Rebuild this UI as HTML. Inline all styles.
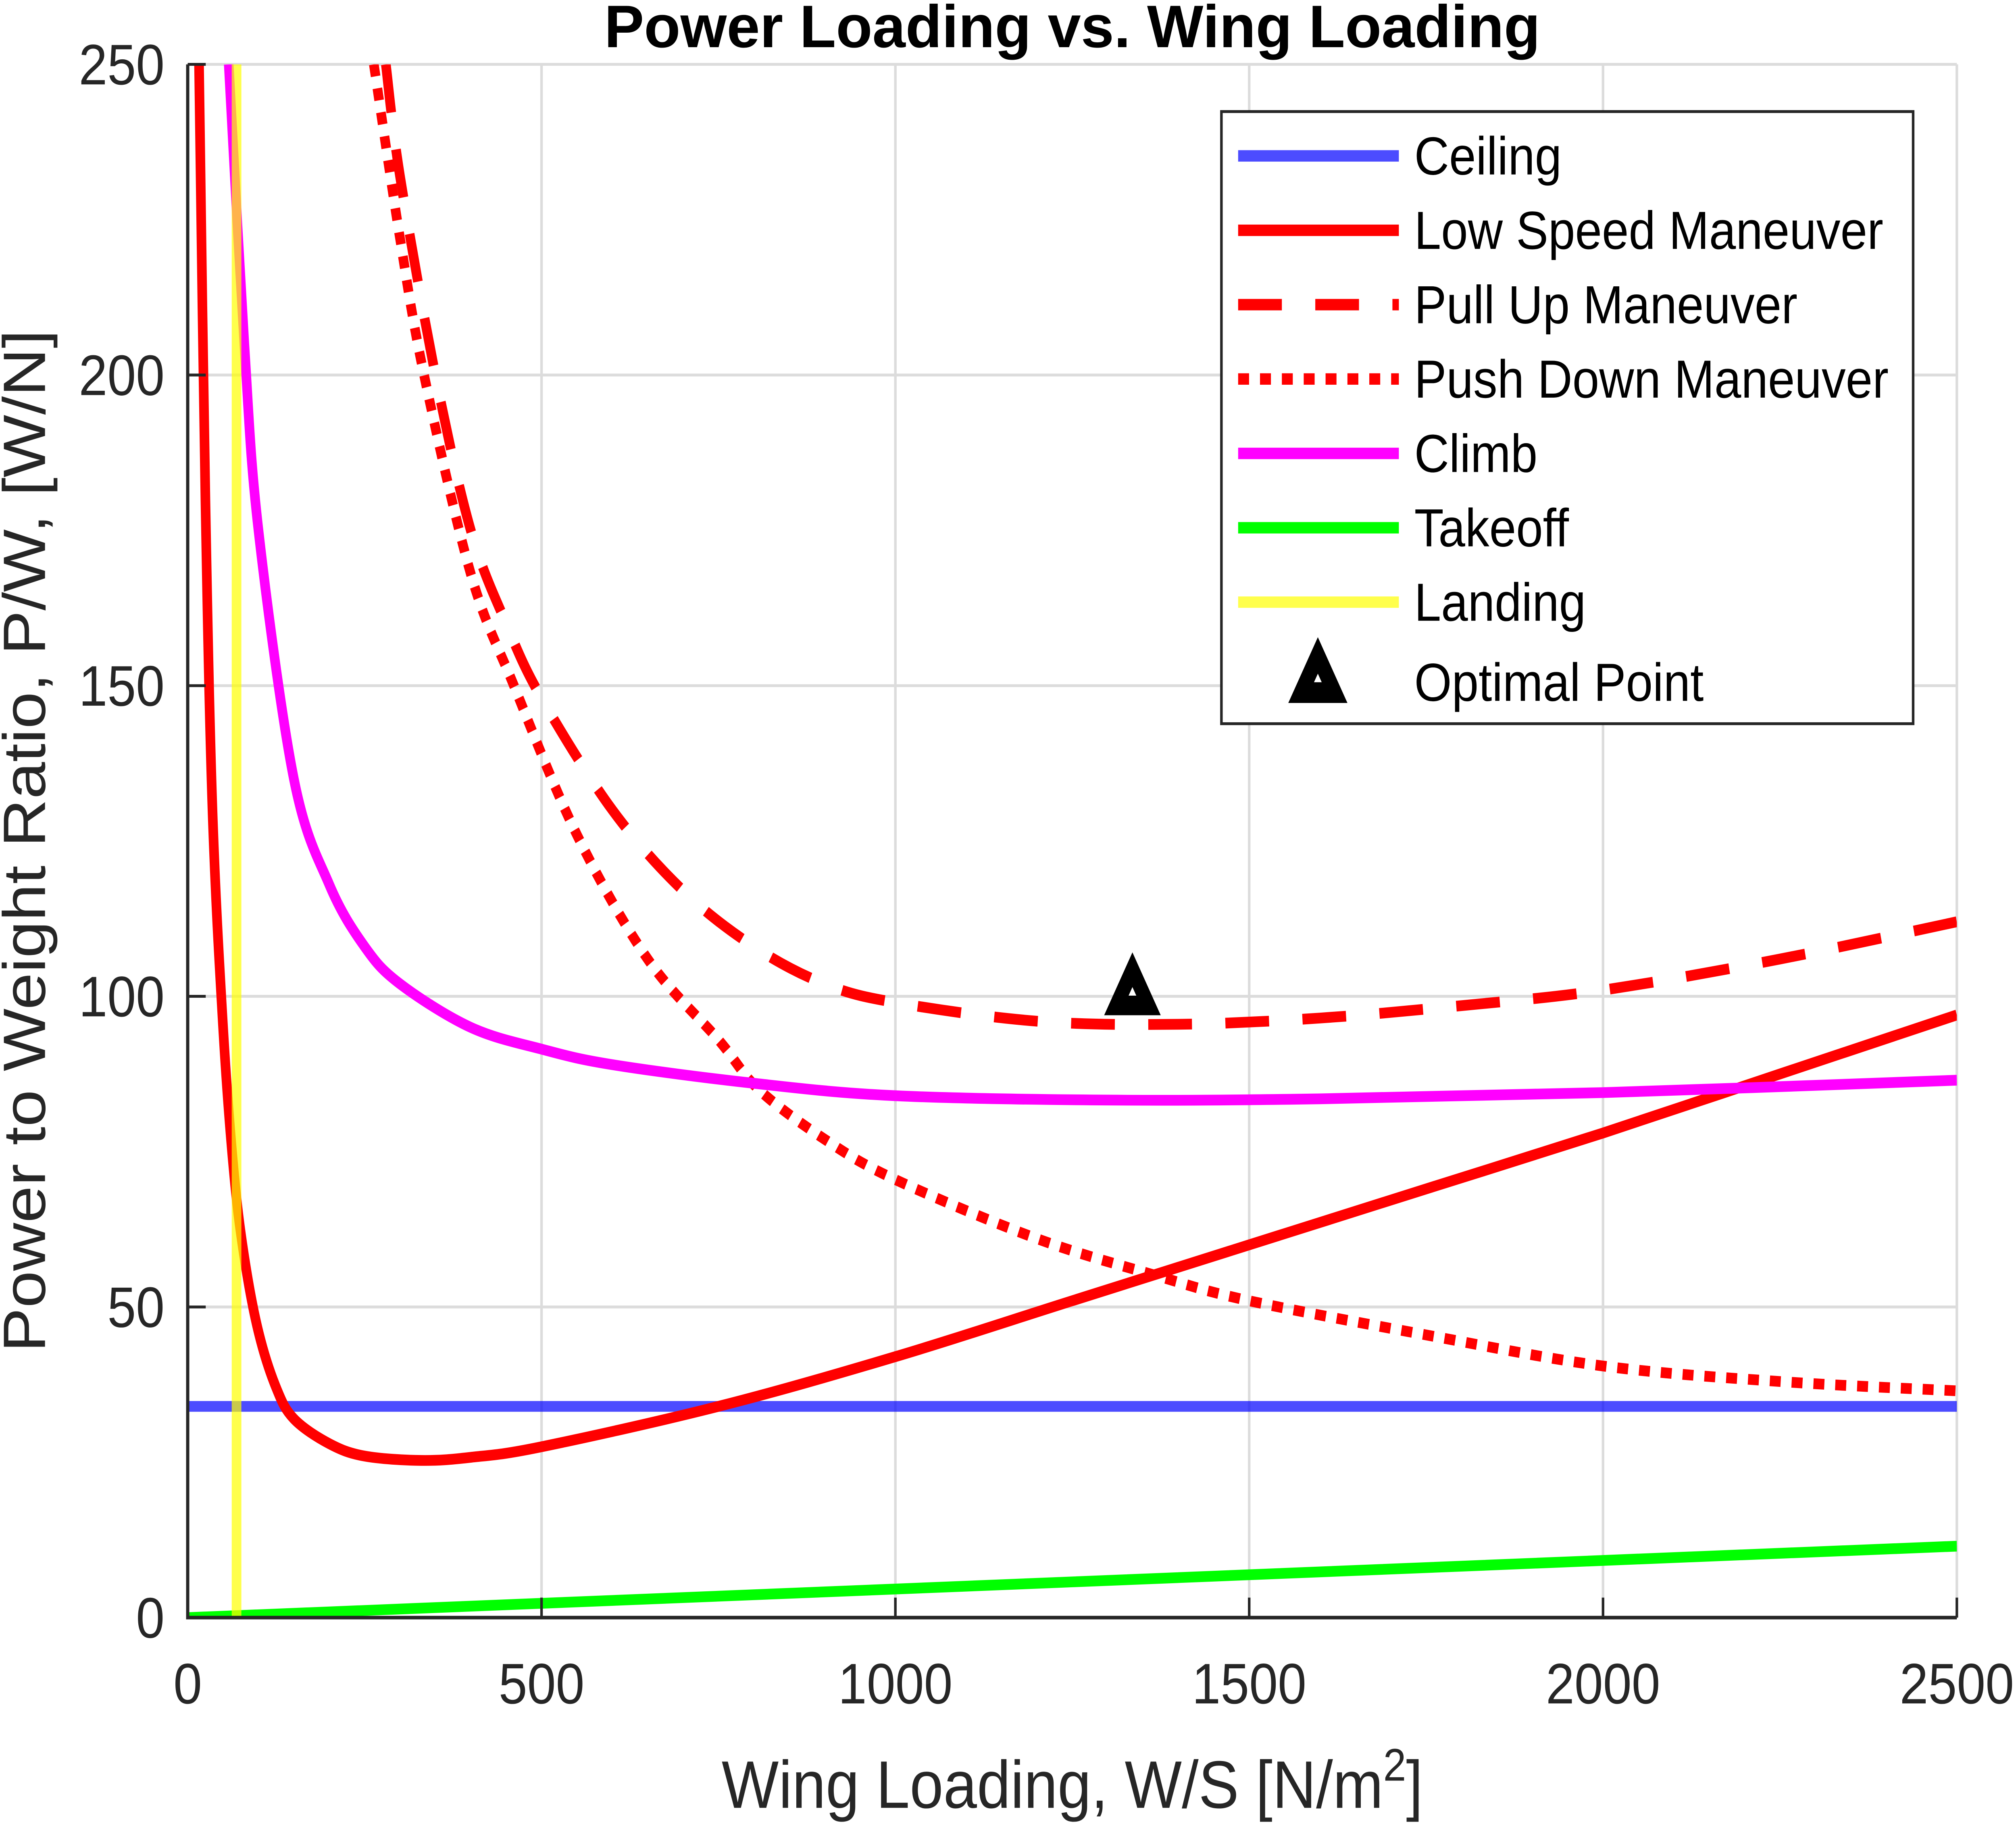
<!DOCTYPE html>
<html><head><meta charset="utf-8">
<style>
html,body{margin:0;padding:0;background:#fff;overflow:hidden;width:100%;height:100%;}
svg{display:block;position:fixed;left:0;top:0;width:100vw;height:100vh;}
text{font-family:"Liberation Sans",Arial,sans-serif;}
</style></head>
<body>
<svg id="chart" viewBox="0 0 1568 1275.3" preserveAspectRatio="none" xmlns="http://www.w3.org/2000/svg">
<defs><clipPath id="plotclip"><rect x="146" y="45" width="1376" height="1086"/></clipPath></defs>
<rect x="0" y="0" width="1568" height="1276" fill="#fff"/>
<g id="grid"></g>
<g id="series" clip-path="url(#plotclip)"></g>
<g id="axes"></g>
<text x="834" y="33" text-anchor="middle" font-size="42" font-weight="bold" fill="#000" textLength="728" lengthAdjust="spacingAndGlyphs">Power Loading vs. Wing Loading</text>
<text x="834" y="1264" text-anchor="middle" font-size="47" fill="#262626">Wing Loading, W/S [N/m<tspan dy="-19" font-size="32">2</tspan><tspan dy="19">]</tspan></text>
<text transform="translate(35,588) rotate(-90)" text-anchor="middle" font-size="46.5" fill="#262626">Power to Weight Ratio, P/W, [W/N]</text>
<g id="legend"></g>
</svg>
<script>
const xTicks=[0,500,1000,1500,2000,2500];
const yTicks=[0,50,100,150,200,250];
const ceilingX=[0,2500];
const ceilingY=[34,34];
const lowSpeedX=[16,25,35,50,65,80,100,125,150,200,250,330,400,500,750,1000,1250,1500,1750,2000,2250,2500];
const lowSpeedY=[250,180,130,95,72,58,46,37,32,28,26,25.3,25.8,27.5,34,42,51,60,69,78,87.5,97];
const pullUpX=[280,300,350,400,450,500,600,700,800,900,1000,1200,1400,1600,1800,2000,2250,2500];
const pullUpY=[250,232,200,175,160,148,130,117,108,102,99,96,95.5,96.5,98.5,101,106,112];
const pushDownX=[263,300,334,400,461,550,650,750,807,900,1000,1200,1370,1500,1750,2000,2250,2500];
const pushDownY=[250,222,200,168,150,126,106,93,85,77,70.5,61,55,51,45.5,40.5,38,36.5];
const climbX=[58,80,100,150,200,250,300,400,500,600,800,1000,1300,1600,2000,2500];
const climbY=[250,205,175,135,118,108,102,95,91.5,89,86,84,83.3,83.5,84.5,86.5];
const takeoffX=[0,2500];
const takeoffY=[0,11.5];
const landingX=[69,69];
const landingY=[0,250];
const optimalX=[1335];
const optimalY=[100.8];

const NS="http://www.w3.org/2000/svg";
const X0=146,X1=1522,Y0=1131,Y1=45;
function sx(v){return X0+(v-0)/(2500-0)*(X1-X0);}
function sy(v){return Y0-(v-0)/(250-0)*(Y0-Y1);}
function mk(tag,attrs,parent){const e=document.createElementNS(NS,tag);for(const k in attrs)e.setAttribute(k,attrs[k]);parent.appendChild(e);return e;}
const grid=document.getElementById('grid'),axes=document.getElementById('axes'),ser=document.getElementById('series'),leg=document.getElementById('legend');

function smooth(xs,ys){
  const P=xs.map((x,i)=>[sx(x),sy(ys[i])]);
  let d='M'+P[0][0].toFixed(2)+','+P[0][1].toFixed(2);
  for(let i=0;i<P.length-1;i++){
    const p0=P[i-1]||P[i],p1=P[i],p2=P[i+1],p3=P[i+2]||p2;
    const c1=[p1[0]+(p2[0]-p0[0])/6,p1[1]+(p2[1]-p0[1])/6];
    const c2=[p2[0]-(p3[0]-p1[0])/6,p2[1]-(p3[1]-p1[1])/6];
    d+=' C'+c1[0].toFixed(2)+','+c1[1].toFixed(2)+' '+c2[0].toFixed(2)+','+c2[1].toFixed(2)+' '+p2[0].toFixed(2)+','+p2[1].toFixed(2);
  }
  return d;
}

xTicks.forEach(t=>{
  const g=mk('line',{x1:sx(t),x2:sx(t),y1:Y1,y2:Y0,stroke:'#dcdcdc','stroke-width':2},grid);
  
  
  const tk=mk('line',{x1:sx(t),x2:sx(t),y1:Y0,y2:Y0-14,stroke:'#262626','stroke-width':2},axes);
  
  
  const lb=mk('text',{x:sx(t),y:1191,'text-anchor':'middle','font-size':40,fill:'#262626'},axes);
  lb.textContent=t;
  
  
});
yTicks.forEach(t=>{
  const g=mk('line',{x1:X0,x2:X1,y1:sy(t),y2:sy(t),stroke:'#dcdcdc','stroke-width':2},grid);
  
  
  const tk=mk('line',{x1:X0,x2:X0+14,y1:sy(t),y2:sy(t),stroke:'#262626','stroke-width':2},axes);
  
  
  const lb=mk('text',{x:128,y:sy(t)+14,'text-anchor':'end','font-size':40,fill:'#262626'},axes);
  lb.textContent=t;
  
  
});
const frame=mk('path',{d:`M${X0},${Y1} V${Y0} H${X1}`,fill:'none',stroke:'#262626','stroke-width':2.5},axes);



function line(xs,ys,color,dash,name,op,w){
  const p=mk('path',{d:smooth(xs,ys),fill:'none',stroke:color,'stroke-width':w||7.5,'stroke-linejoin':'round','stroke-opacity':op||1},ser);
  if(dash)p.setAttribute('stroke-dasharray',dash);
  
  
}
line(ceilingX,ceilingY,'#0000ff',null,'ceiling-line',0.7);
line(lowSpeedX,lowSpeedY,'#ff0000',null,'low-speed-maneuver-line');
line(pullUpX,pullUpY,'#ff0000','34 26','pull-up-maneuver-line');
line(pushDownX,pushDownY,'#ff0000','8.5 8.5','push-down-maneuver-line');
line(climbX,climbY,'#ff00ff',null,'climb-line');
line(takeoffX,takeoffY,'#00ff00',null,'takeoff-line');
line(landingX,landingY,'#ffff00',null,'landing-line',0.7);

function tri(cx,cy,s,parent){
  const t=mk('polygon',{points:`${cx},${cy-s*0.62} ${cx-s*0.5},${cy+s*0.38} ${cx+s*0.5},${cy+s*0.38}`,fill:'#000'},parent);
  mk('polygon',{points:`${cx},${cy-3} ${cx-3},${cy+3} ${cx+3},${cy+3}`,fill:'#fff'},parent);
  return t;
}
optimalX.forEach((v,i)=>{
  const t=tri(sx(v),sy(optimalY[i]),44,ser.parentNode);
  
  
});

const box=mk('rect',{x:950,y:78,width:538,height:428,fill:'#fff',stroke:'#262626','stroke-width':2},leg);


const entries=[['Ceiling','#0000ff',null,0.7],['Low Speed Maneuver','#ff0000',null,1],['Pull Up Maneuver','#ff0000','34 26',1],['Push Down Maneuver','#ff0000','8.5 8.5',1],['Climb','#ff00ff',null,1],['Takeoff','#00ff00',null,1],['Landing','#ffff00',null,0.7]];
entries.forEach((e,i)=>{
  const y=109+i*52;
  const l=mk('line',{x1:963,x2:1088,y1:y,y2:y,stroke:e[1],'stroke-width':8,'stroke-opacity':e[3]},leg);
  if(e[2])l.setAttribute('stroke-dasharray',e[2]);
  
  
  const t=mk('text',{x:1100,y:y+13,'font-size':37.5,fill:'#000'},leg);
  t.textContent=e[0];
  
  
});
const lt=tri(1025,474,46,leg);


const ot=mk('text',{x:1100,y:490,'font-size':37.5,fill:'#000'},leg);
ot.textContent='Optimal Point';


</script>
</body></html>
